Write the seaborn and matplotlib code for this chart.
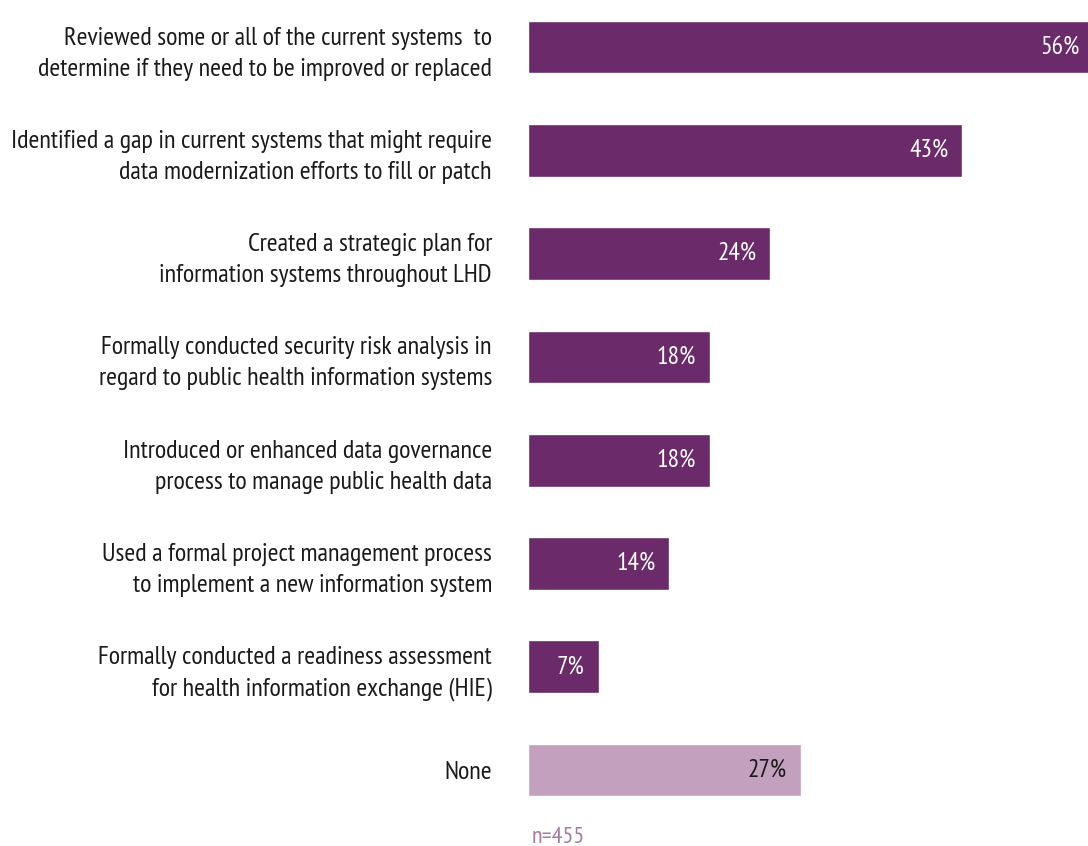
import matplotlib
matplotlib.use("Agg")
import matplotlib.pyplot as plt
import seaborn as sns
import pandas as pd
from matplotlib import font_manager

# Survey items (two-line labels) and share of respondents
categories = [
    "Reviewed some or all of the current systems  to\ndetermine if they need to be improved or replaced",
    "Identified a gap in current systems that might require\ndata modernization efforts to fill or patch",
    "Created a strategic plan for\ninformation systems throughout LHD",
    "Formally conducted security risk analysis in\nregard to public health information systems",
    "Introduced or enhanced data governance\nprocess to manage public health data",
    "Used a formal project management process\nto implement a new information system",
    "Formally conducted a readiness assessment\nfor health information exchange (HIE)",
    "None",
]
values = [56, 43, 24, 18, 18, 14, 7, 27]
groups = ["activity"] * 7 + ["none"]
sample_note = "n=455"

bar_colors = {"activity": "#6B2A6A", "none": "#C2A0BE"}
label_colors = {"activity": "white", "none": "#1a1a1a"}

sns.set_theme(style="white")
available = {f.name for f in font_manager.fontManager.ttflist}
preferred = ["PT Sans Narrow", "Roboto Condensed", "Fira Sans Condensed",
             "Open Sans Condensed", "Encode Sans Condensed", "Liberation Sans Narrow",
             "DejaVu Sans"]
family = next(f for f in preferred if f in available)
plt.rcParams["font.family"] = [family, "DejaVu Sans"]

df = pd.DataFrame({"category": categories, "value": values, "group": groups})

fig = plt.figure(figsize=(10.88, 8.46), dpi=100)
renderer = fig.canvas.get_renderer()


def fit_size(text, width_px, base=20.0):
    """Font size (pt) at which a single line of text spans width_px pixels."""
    t = fig.text(0, 0, text, fontsize=base)
    w = t.get_window_extent(renderer).width
    t.remove()
    return base * width_px / w


label_size = fit_size("Identified a gap in current systems that might require", 482)
value_size = fit_size("43%", 39)
note_size = fit_size(sample_note, 53)

ax = fig.add_axes([528 / 1088, 0.0, 1 - 528 / 1088, 1.0])

sns.barplot(
    data=df, x="value", y="category", hue="group", palette=bar_colors,
    order=categories, dodge=False, legend=False, width=0.51, ax=ax,
    saturation=1,
)

step = 103.3
ax.set_xlim(0, 55.45)
ax.set_ylim((846 - 47) / step, -47 / step)

for i, (v, g) in enumerate(zip(values, groups)):
    ax.annotate(f"{v}%", xy=(v, i), xytext=(-10, 0), textcoords="offset points",
                ha="right", va="center", fontsize=value_size, color=label_colors[g],
                annotation_clip=False)

ax.set_xlabel("")
ax.set_ylabel("")
ax.set_xticks([])
ax.tick_params(axis="y", length=0, pad=26)
for lbl in ax.get_yticklabels():
    lbl.set_fontsize(label_size)
    lbl.set_color("#1a1a1a")
    lbl.set_linespacing(1.45)
sns.despine(ax=ax, left=True, bottom=True, top=True, right=True)

fig.text(532 / 1088, 1 - 837 / 846, sample_note, fontsize=note_size, color="#A47FA3",
         ha="left", va="center")

fig.savefig("out.png", dpi=100)
